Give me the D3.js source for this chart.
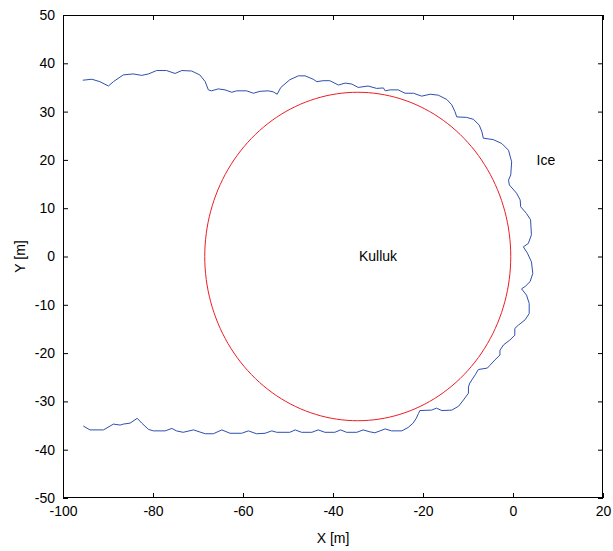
<!DOCTYPE html>
<html>
<head>
<meta charset="utf-8">
<script src="https://cdn.jsdelivr.net/npm/d3@7"></script>
<style>
  html, body { margin: 0; padding: 0; background: #fff; }
  svg { display: block; font-family: "Liberation Sans", Arial, sans-serif; }
</style>
</head>
<body>
<svg id="chart" width="613" height="551"></svg>
<script>
// Axis ticks
const xTicks = [-100, -80, -60, -40, -20, 0, 20];
const yTicks = [-50, -40, -30, -20, -10, 0, 10, 20, 30, 40, 50];

// Ice boundary (x, y in metres), traced from the upper edge around to the lower edge
const iceX = [-95.6, -93.6, -91.8, -89.9, -88.8, -86.6, -84.4, -82.5, -81.0, -79.2, -77.0, -75.1, -73.6, -71.4, -69.6, -68.4, -67.7, -67.0, -65.5, -64.0, -62.5, -61.4, -59.2, -57.7, -56.2, -54.4, -53.3, -52.4, -51.6, -49.6, -47.7, -46.2, -44.4, -43.6, -42.2, -40.7, -38.8, -37.3, -35.8, -34.4, -32.2, -30.3, -28.8, -28.4, -27.3, -25.5, -24.0, -22.1, -20.3, -18.4, -16.6, -14.7, -13.6, -12.9, -12.5, -10.3, -8.8, -7.5, -6.9, -6.6, -4.4, -2.5, -1.0, -0.3, -0.5, -1.0, -0.8, 0.8, 1.6, 1.7, 3.0, 3.9, 4.1, 3.4, 2.3, 3.2, 4.1, 4.4, 3.8, 2.7, 1.9, 3.0, 3.6, 3.6, 2.7, 1.2, 0.4, 0.4, -0.7, -2.1, -2.9, -2.9, -4.0, -5.1, -5.7, -7.7, -8.4, -9.6, -9.9, -9.9, -11.0, -12.1, -13.6, -15.8, -17.0, -18.1, -20.7, -21.0, -21.5, -22.2, -23.3, -24.7, -27.0, -28.4, -30.7, -31.8, -33.3, -34.7, -37.0, -38.3, -39.6, -41.8, -43.3, -44.7, -47.0, -48.4, -49.6, -52.5, -53.6, -55.1, -57.0, -58.8, -60.3, -62.9, -64.7, -66.6, -68.4, -71.0, -73.3, -74.8, -75.8, -77.3, -79.9, -81.0, -82.5, -83.5, -85.1, -86.6, -87.3, -88.8, -91.0, -94.0, -95.5];
const iceY = [36.5, 36.7, 36.2, 35.3, 36.2, 37.6, 37.8, 37.5, 37.8, 38.5, 38.5, 37.9, 38.5, 38.4, 37.6, 36.2, 34.5, 34.3, 34.7, 34.5, 34.0, 34.3, 34.3, 33.8, 34.2, 34.3, 34.1, 33.6, 35.0, 36.6, 37.4, 37.4, 36.7, 36.2, 36.4, 36.4, 35.5, 35.9, 35.7, 35.0, 35.3, 34.8, 34.9, 34.3, 34.5, 34.5, 33.8, 33.8, 33.2, 33.6, 33.4, 32.5, 31.4, 30.0, 28.9, 28.8, 28.4, 27.2, 25.8, 24.5, 24.2, 23.4, 22.0, 19.6, 16.9, 15.8, 14.8, 13.1, 11.7, 10.3, 8.9, 7.6, 4.5, 2.7, 2.0, 0.7, -1.1, -3.5, -5.2, -6.2, -6.7, -8.0, -9.7, -11.8, -13.1, -14.2, -14.9, -16.3, -17.3, -18.3, -19.4, -20.4, -21.4, -22.5, -23.1, -23.4, -24.5, -26.2, -27.0, -28.3, -29.7, -31.0, -31.8, -31.9, -31.4, -31.8, -31.9, -32.5, -33.5, -34.5, -35.4, -36.1, -36.1, -35.7, -36.5, -36.3, -35.9, -36.4, -36.4, -35.9, -36.4, -36.4, -35.9, -36.4, -36.4, -35.9, -36.4, -36.4, -36.1, -36.6, -36.7, -36.1, -36.6, -36.6, -35.9, -36.7, -36.7, -35.9, -36.4, -36.1, -35.6, -36.1, -36.1, -35.8, -34.5, -33.5, -34.5, -34.7, -34.9, -34.7, -35.9, -35.9, -35.1];

// Kulluk hull outline: circle centre and radius (m)
const kullukCenter = [-34.5, 0];
const kullukRadius = 34;

// Text labels placed in data coordinates
const labelNames = ["Ice", "Kulluk"];
const labelX = [7.3, -30];
const labelY = [20, 0];

const svg = d3.select("#chart");
const margin = { left: 63, right: 10, top: 15, bottom: 53 };
const W = 613, H = 551;

const x = d3.scaleLinear().domain([-100, 20]).range([margin.left, W - margin.right]);
const y = d3.scaleLinear().domain([-50, 50]).range([H - margin.bottom, margin.top]);

const x0 = x.range()[0], x1 = x.range()[1];
const y0 = y.range()[1], y1 = y.range()[0];

// Clip plotted lines to the axes box
svg.append("clipPath").attr("id", "plotClip")
  .append("rect").attr("x", x0).attr("y", y0).attr("width", x1 - x0).attr("height", y1 - y0);

const plot = svg.append("g").attr("clip-path", "url(#plotClip)");

// Kulluk circle
const circlePts = d3.range(0, 361, 2).map(a => {
  const t = a * Math.PI / 180;
  return [kullukCenter[0] + kullukRadius * Math.cos(t), kullukCenter[1] + kullukRadius * Math.sin(t)];
});
const line = d3.line().x(d => x(d[0])).y(d => y(d[1]));

plot.append("path")
  .datum(circlePts)
  .attr("d", line)
  .attr("fill", "none")
  .attr("stroke", "#ee1c24")
  .attr("stroke-width", 1);

// Ice edge
const icePts = iceX.map((v, i) => [v, iceY[i]]);
plot.append("path")
  .datum(icePts)
  .attr("d", line)
  .attr("fill", "none")
  .attr("stroke", "#2e4fb0")
  .attr("stroke-width", 1);

// Axes: ticks inward on all four sides, plain hyphen minus in labels
const tickLen = 5;
const fmt = d => String(d);

const xAxisBottom = d3.axisBottom(x).tickValues(xTicks).tickSizeInner(-tickLen).tickSizeOuter(0).tickPadding(8).tickFormat(fmt);
const xAxisTop = d3.axisTop(x).tickValues(xTicks).tickSizeInner(-tickLen).tickSizeOuter(0).tickFormat("");
const yAxisLeft = d3.axisLeft(y).tickValues(yTicks).tickSizeInner(-tickLen).tickSizeOuter(0).tickPadding(8).tickFormat(fmt);
const yAxisRight = d3.axisRight(y).tickValues(yTicks).tickSizeInner(-tickLen).tickSizeOuter(0).tickFormat("");

function styleAxis(g) {
  g.select(".domain").remove();
  g.selectAll("line").attr("stroke", "#000");
  g.selectAll("text").attr("fill", "#000").style("font-size", "14px")
    .style("font-family", "'Liberation Sans', Arial, sans-serif");
}

svg.append("g").attr("transform", `translate(0,${y1})`).call(xAxisBottom).call(styleAxis);
svg.append("g").attr("transform", `translate(0,${y0})`).call(xAxisTop).call(styleAxis);
svg.append("g").attr("transform", `translate(${x0},0)`).call(yAxisLeft).call(styleAxis);
svg.append("g").attr("transform", `translate(${x1},0)`).call(yAxisRight).call(styleAxis);

// Box
svg.append("rect")
  .attr("x", x0 + 0.5).attr("y", y0 + 0.5)
  .attr("width", x1 - x0 - 1).attr("height", y1 - y0 - 1)
  .attr("fill", "none").attr("stroke", "#000").attr("stroke-width", 1);

// Axis titles
svg.append("text")
  .attr("x", (x0 + x1) / 2).attr("y", 543)
  .attr("text-anchor", "middle")
  .style("font-size", "14px").attr("fill", "#000")
  .text("X [m]");

svg.append("text")
  .attr("transform", `translate(25,${(y0 + y1) / 2}) rotate(-90)`)
  .attr("text-anchor", "middle")
  .style("font-size", "14px").attr("fill", "#000")
  .text("Y [m]");

// In-plot labels
labelNames.forEach((name, i) => {
  svg.append("text")
    .attr("x", x(labelX[i])).attr("y", y(labelY[i]))
    .attr("dy", "0.35em")
    .attr("text-anchor", "middle")
    .style("font-size", "14px").attr("fill", "#000")
    .text(name);
});
</script>
</body>
</html>
